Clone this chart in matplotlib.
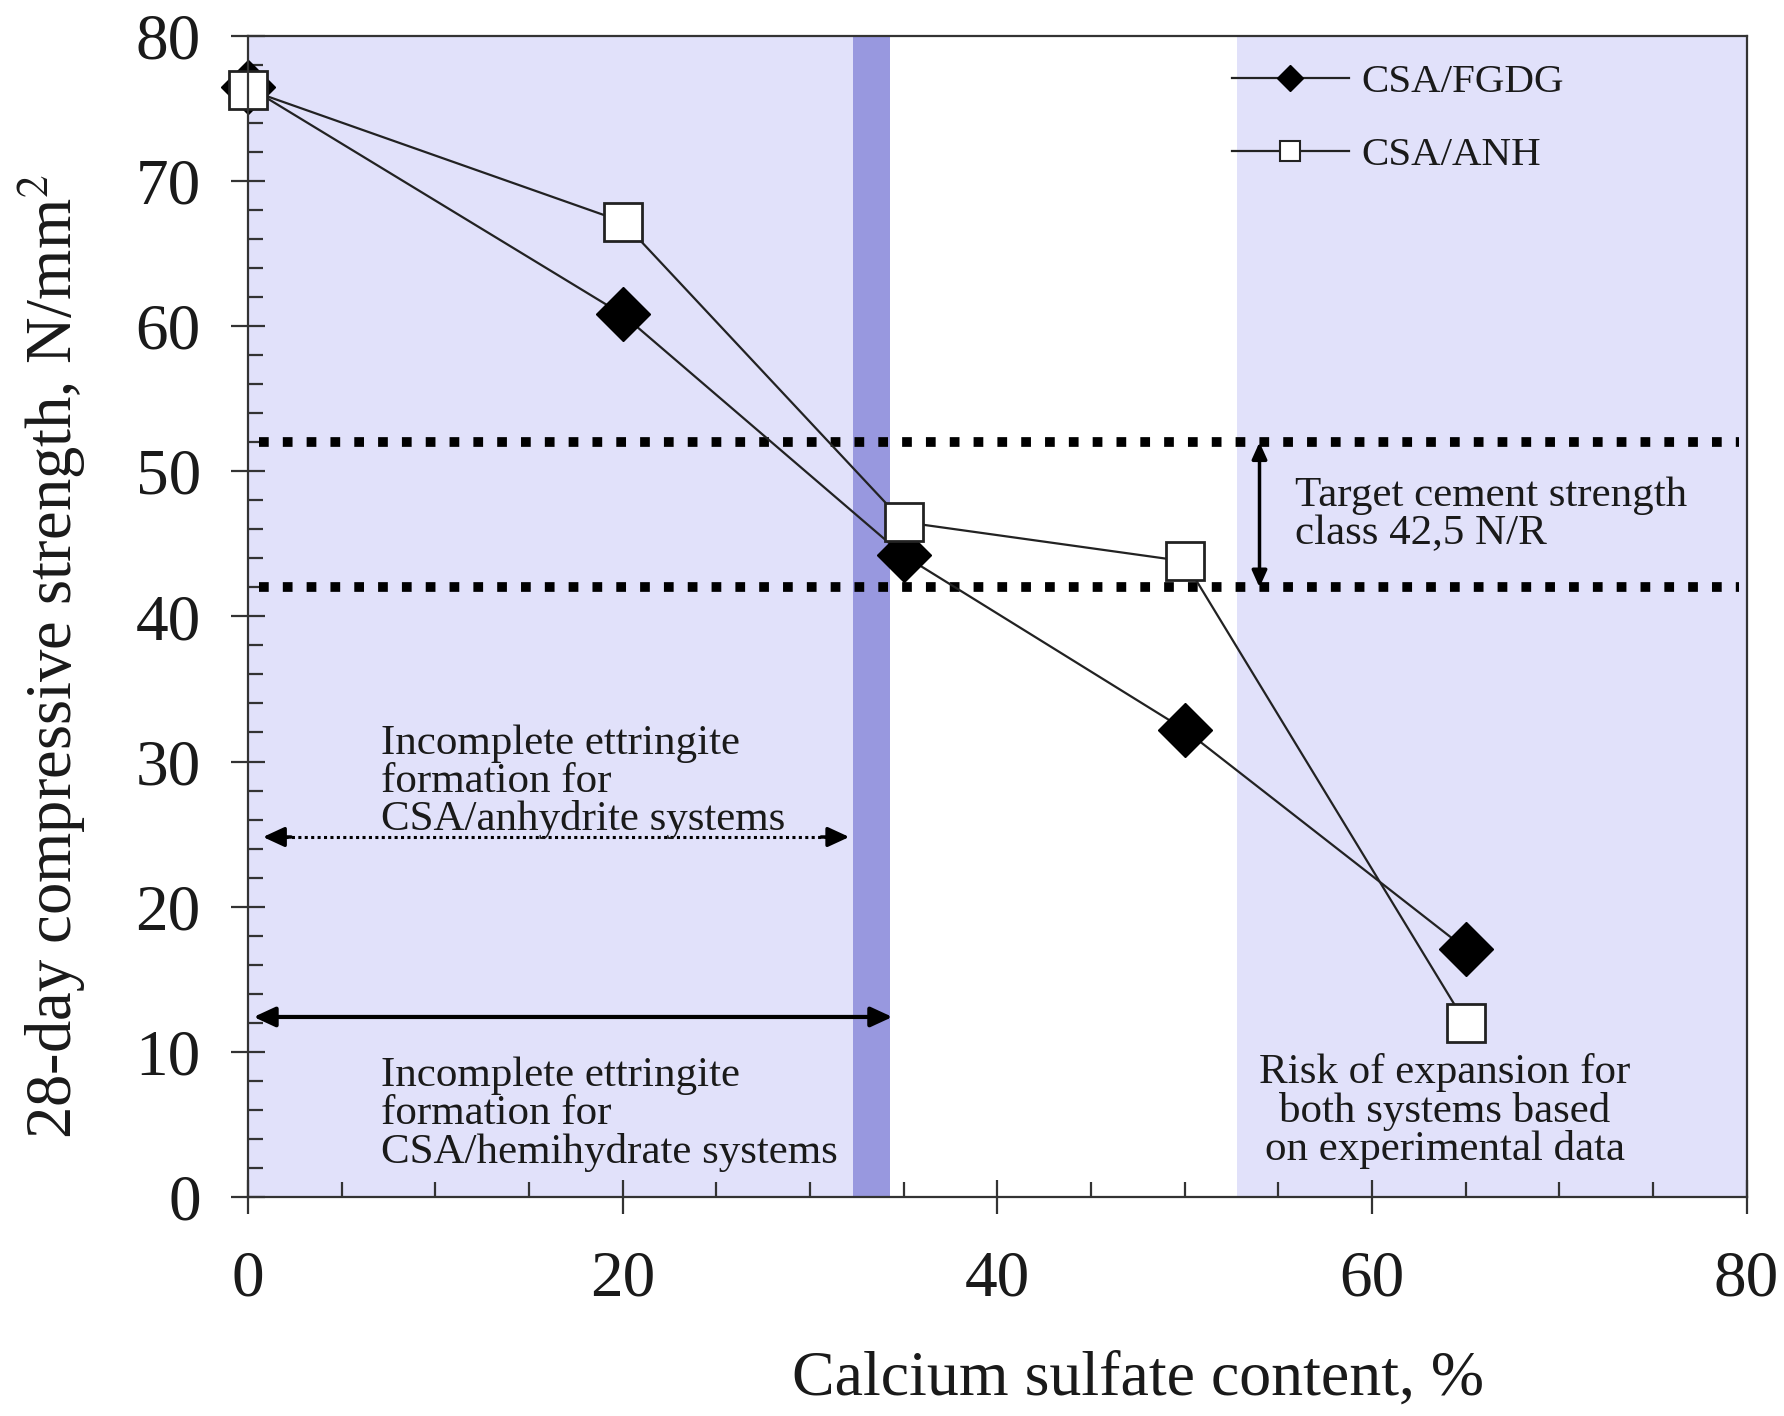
import matplotlib
matplotlib.use("Agg")
import matplotlib.pyplot as plt
from matplotlib.lines import Line2D
from matplotlib.ticker import MultipleLocator

plt.rcParams['font.family'] = ['Liberation Serif', 'DejaVu Serif']
plt.rcParams['mathtext.fontset'] = 'stix'

# ---- data ----
x_content = [0, 20, 35, 50, 65]
fgdg_strength = [76.5, 60.8, 44.2, 32.2, 17.1]
anh_strength = [76.3, 67.2, 46.5, 43.8, 12.0]
series_labels = ["CSA/FGDG", "CSA/ANH"]

target_levels = [52, 42]
anhydrite_zone = [0.8, 32.1]
hemihydrate_zone = [0.3, 34.4]
band_zone = [32.3, 34.3]
risk_zone = [52.8, 80]
xticks = [0, 20, 40, 60, 80]
yticks = [0, 10, 20, 30, 40, 50, 60, 70, 80]

LAV = '#e1e1fa'
BAND = '#9898df'
INK = '#1a1a1a'

fig = plt.figure(figsize=(17.84, 14.16), dpi=100)
ax = fig.add_axes([0.139, 0.1547, 0.840, 0.820])
ax.set_xlim(0, 80)
ax.set_ylim(0, 80)

# shaded regions
ax.axvspan(0, band_zone[0], color=LAV, lw=0, zorder=0)
ax.axvspan(band_zone[0], band_zone[1], color=BAND, lw=0, zorder=0)
ax.axvspan(risk_zone[0], risk_zone[1], color=LAV, lw=0, zorder=0)

# target strength dotted lines
for lvl in target_levels:
    ln, = ax.plot([0.6, 79.6], [lvl, lvl], color='black', lw=7, zorder=2,
                  solid_capstyle='butt', dash_capstyle='butt')
    ln.set_dashes((1, 1.45))

# data series
ax.plot(x_content, fgdg_strength, color='#222222', lw=1.6, marker='D', ms=27,
        mfc='black', mec='black', mew=1, zorder=4, clip_on=False)
ax.plot(x_content, anh_strength, color='#222222', lw=1.6, marker='s', ms=28,
        mfc='white', mec='#222222', mew=2, zorder=5, clip_on=False)

# arrows
head = dict(arrowstyle='-|>,head_length=1.3,head_width=0.6', color='black', lw=2.5,
            shrinkA=0, shrinkB=0)
# dotted double arrow (anhydrite)
y_a = 24.8
ax.plot([anhydrite_zone[0] + 1.2, anhydrite_zone[1] - 1.2], [y_a, y_a], color='black',
        lw=2.2, ls=(0, (1, 1.1)), zorder=3)
ax.annotate('', xy=(anhydrite_zone[0], y_a), xytext=(anhydrite_zone[0] + 1.5, y_a),
            arrowprops=head, zorder=3)
ax.annotate('', xy=(anhydrite_zone[1], y_a), xytext=(anhydrite_zone[1] - 1.5, y_a),
            arrowprops=head, zorder=3)
# solid double arrow (hemihydrate)
ax.annotate('', xy=(hemihydrate_zone[0], 12.4), xytext=(hemihydrate_zone[1], 12.4),
            arrowprops=dict(arrowstyle='<|-|>,head_length=1.3,head_width=0.6',
                            color='black', lw=3, shrinkA=0, shrinkB=0), zorder=3)
# vertical double arrow (target)
ax.annotate('', xy=(54.0, target_levels[0]), xytext=(54.0, target_levels[1]),
            arrowprops=dict(arrowstyle='<|-|>,head_length=1.0,head_width=0.45',
                            color='black', lw=2.5, shrinkA=0, shrinkB=0), zorder=3)

# annotation texts
tfs = 31
ax.text(7.1, 28.6, "Incomplete ettringite\nformation for\nCSA/anhydrite systems",
        fontsize=tfs, ha='left', va='center', linespacing=0.98, color=INK, zorder=6)
ax.text(7.1, 5.7, "Incomplete ettringite\nformation for\nCSA/hemihydrate systems",
        fontsize=tfs, ha='left', va='center', linespacing=0.98, color=INK, zorder=6)
ax.text(55.9, 47.0, "Target cement strength\nclass 42,5 N/R",
        fontsize=tfs, ha='left', va='center', linespacing=0.98, color=INK, zorder=6)
ax.text(63.9, 5.9, "Risk of expansion for\nboth systems based\non experimental data",
        fontsize=tfs, ha='center', va='center', linespacing=0.98, color=INK, zorder=6,
        multialignment='center')

# axes styling
for side in ['left', 'bottom', 'top', 'right']:
    ax.spines[side].set_linewidth(1.6)
    ax.spines[side].set_color('#333333')
    ax.spines[side].set_zorder(7)
ax.set_xticks(xticks)
ax.set_yticks(yticks)
ax.xaxis.set_minor_locator(MultipleLocator(5))
ax.yaxis.set_minor_locator(MultipleLocator(2))
ax.tick_params(which='major', direction='inout', length=24, width=1.6, color='#333333',
               labelsize=47, top=False, right=False)
ax.tick_params(axis='x', which='major', pad=26)
ax.tick_params(axis='y', which='major', pad=22)
ax.tick_params(which='minor', direction='in', length=11, width=1.6, color='#333333',
               top=False, right=False)
for lab in ax.get_xticklabels() + ax.get_yticklabels():
    lab.set_color(INK)

fig.text(0.638, 0.026, "Calcium sulfate content, %", fontsize=46, ha='center',
         va='center', color=INK)
fig.text(0.029, 0.536, "28-day compressive strength, N/mm$^2$", fontsize=46.5,
         ha='center', va='center', rotation=90, color=INK)

# legend
handles = [
    Line2D([], [], color='#222222', lw=1.6, marker='D', ms=13, mfc='black', mec='black'),
    Line2D([], [], color='#222222', lw=1.6, marker='s', ms=15, mfc='white', mec='#222222', mew=1.5),
]
leg = ax.legend(handles, series_labels, loc='upper left',
                bbox_to_anchor=(0.6906, 0.955), bbox_transform=fig.transFigure,
                frameon=False, fontsize=29.5, handlelength=2.85, handletextpad=0.3,
                labelspacing=0.85, borderpad=0, borderaxespad=0)
for t in leg.get_texts():
    t.set_color(INK)

fig.savefig("out.png", dpi=100, facecolor='white')
